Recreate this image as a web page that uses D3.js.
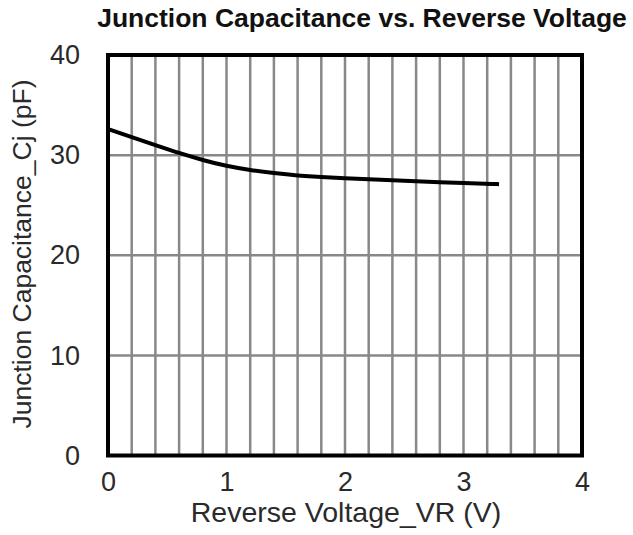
<!DOCTYPE html>
<html>
<head>
<meta charset="utf-8">
<script src="https://cdn.jsdelivr.net/npm/d3@7"></script>
<style>
  body { margin: 0; background: #fff; }
  svg { display: block; font-family: "Liberation Sans", Arial, sans-serif; }
</style>
</head>
<body>
<svg id="chart" width="633" height="535"></svg>
<script>
// curve
var voltage = [0, 0.2, 0.4, 0.6, 0.8, 1.0, 1.2, 1.4, 1.6, 1.8, 2.0, 2.2, 2.4, 2.6, 2.8, 3.0, 3.2, 3.3];
var capacitance = [32.6, 31.8, 31.0, 30.2, 29.5, 28.9, 28.5, 28.2, 27.95, 27.8, 27.7, 27.6, 27.5, 27.4, 27.3, 27.2, 27.15, 27.1];

var xTicks = [0, 1, 2, 3, 4];
var yTicks = [0, 10, 20, 30, 40];
var xGrid = d3.range(1, 20).map(function(i) { return i * 0.2; });
var yGrid = [10, 20, 30];

var plotLeft = 108, plotRight = 582, plotTop = 55, plotBottom = 455.5;

var svg = d3.select('#chart');

var x = d3.scaleLinear().domain([0, 4]).range([plotLeft, plotRight]);
var y = d3.scaleLinear().domain([0, 40]).range([plotBottom, plotTop]);

svg.append('text')
    .attr('x', 362)
    .attr('y', 27)
    .attr('text-anchor', 'middle')
    .attr('font-size', 26.5)
    .attr('font-weight', 'bold')
    .attr('fill', '#111')
    .text('Junction Capacitance vs. Reverse Voltage');

// grid
svg.append('g').selectAll('line')
    .data(xGrid)
    .enter().append('line')
    .attr('x1', function(d) { return x(d); })
    .attr('x2', function(d) { return x(d); })
    .attr('y1', plotTop)
    .attr('y2', plotBottom)
    .attr('stroke', '#888')
    .attr('stroke-width', 2.5);

svg.append('g').selectAll('line')
    .data(yGrid)
    .enter().append('line')
    .attr('x1', plotLeft)
    .attr('x2', plotRight)
    .attr('y1', function(d) { return y(d); })
    .attr('y2', function(d) { return y(d); })
    .attr('stroke', '#888')
    .attr('stroke-width', 2.5);

// frame
svg.append('rect')
    .attr('x', plotLeft)
    .attr('y', plotTop)
    .attr('width', plotRight - plotLeft)
    .attr('height', plotBottom - plotTop)
    .attr('fill', 'none')
    .attr('stroke', '#000')
    .attr('stroke-width', 4);

// axes, labels only
var xAxis = svg.append('g')
    .attr('transform', 'translate(0,' + plotBottom + ')')
    .call(d3.axisBottom(x).tickValues(xTicks).tickSize(0).tickPadding(16).tickFormat(d3.format('d')));
var yAxis = svg.append('g')
    .attr('transform', 'translate(' + plotLeft + ',0)')
    .call(d3.axisLeft(y).tickValues(yTicks).tickSize(0).tickPadding(28).tickFormat(d3.format('d')));

[xAxis, yAxis].forEach(function(a) {
    a.select('.domain').remove();
    a.selectAll('text')
        .attr('font-size', 27)
        .attr('font-family', '"Liberation Sans", Arial, sans-serif')
        .attr('fill', '#2a2a2a');
});

svg.append('text')
    .attr('x', 346)
    .attr('y', 522)
    .attr('text-anchor', 'middle')
    .attr('font-size', 28.5)
    .attr('fill', '#2a2a2a')
    .text('Reverse Voltage_VR (V)');

svg.append('text')
    .attr('transform', 'translate(31,254) rotate(-90)')
    .attr('text-anchor', 'middle')
    .attr('font-size', 26.5)
    .attr('fill', '#2a2a2a')
    .text('Junction Capacitance_Cj (pF)');

// curve
var line = d3.line()
    .x(function(d, i) { return x(voltage[i]); })
    .y(function(d) { return y(d); })
    .curve(d3.curveBasis);

svg.append('path')
    .datum(capacitance)
    .attr('d', line)
    .attr('fill', 'none')
    .attr('stroke', '#000')
    .attr('stroke-width', 4)
    .attr('stroke-linecap', 'butt');
</script>
</body>
</html>
